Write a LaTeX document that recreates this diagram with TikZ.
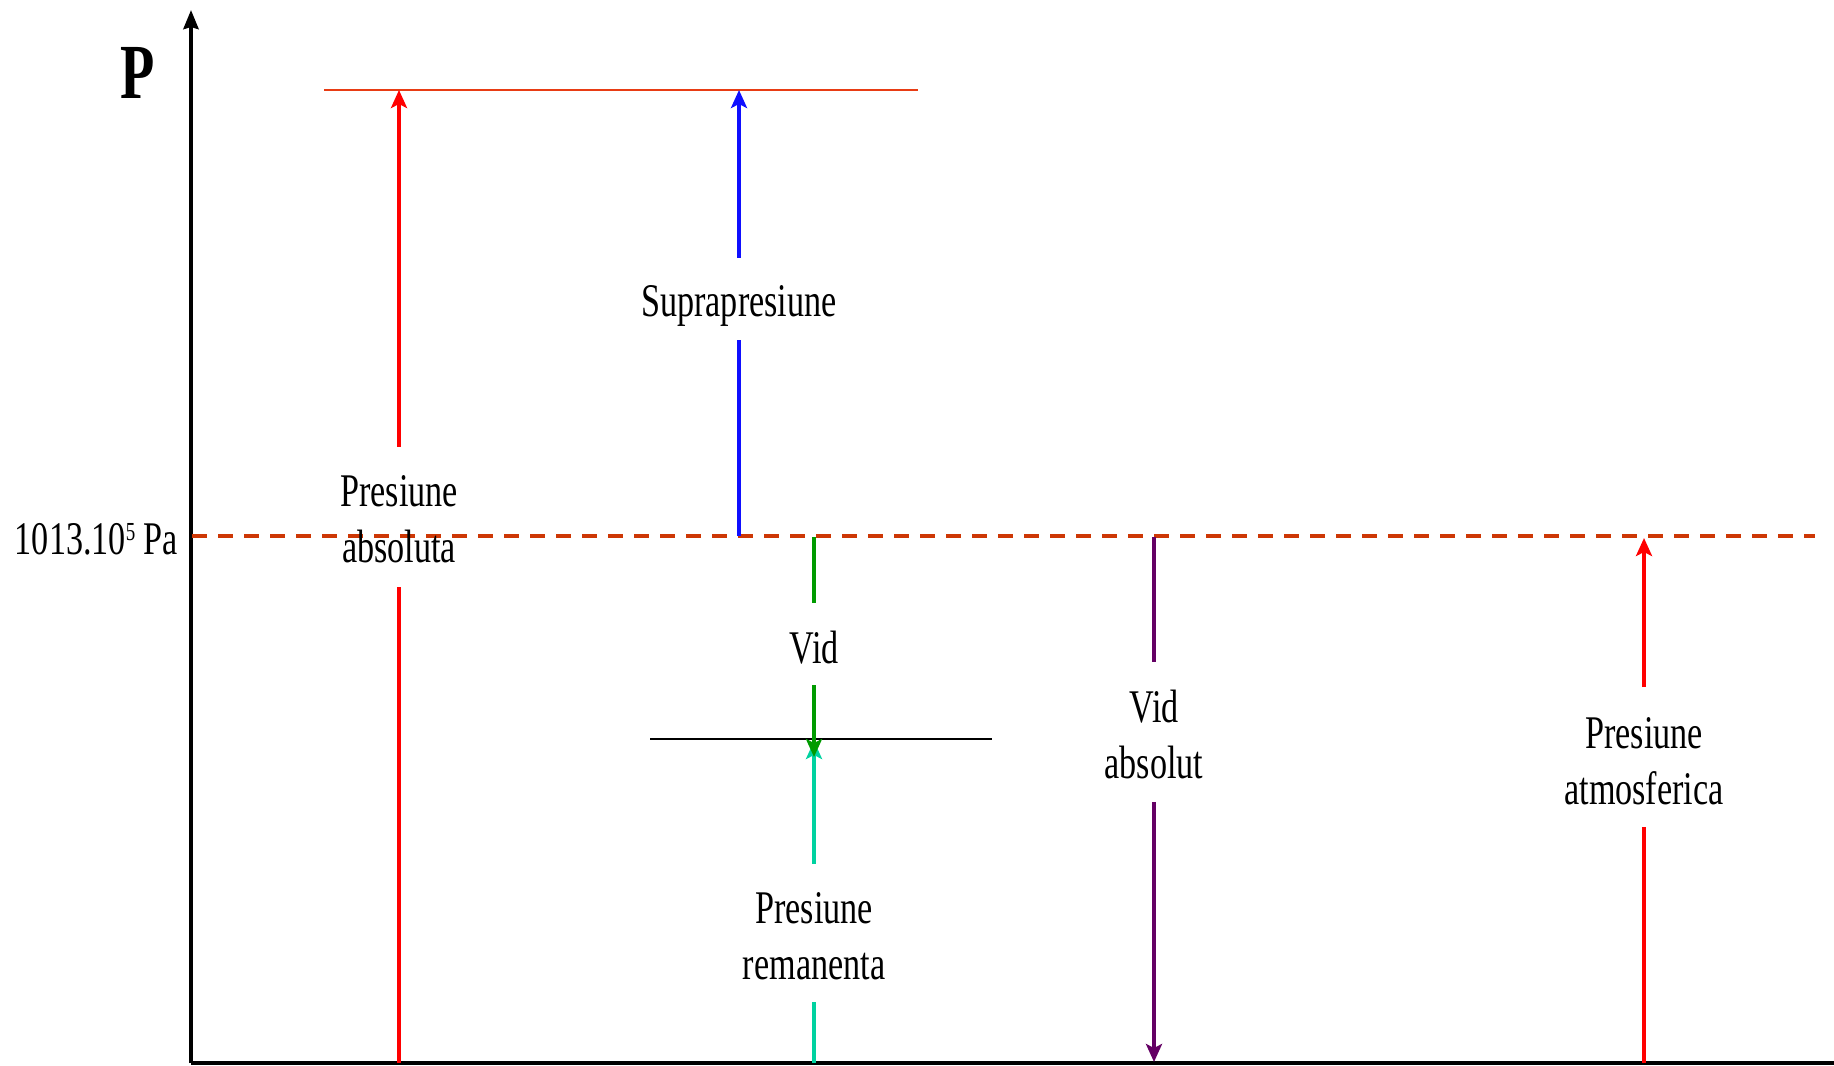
\documentclass[tikz,border=0pt]{standalone}
\usepackage{fontspec}
\setmainfont{Liberation Serif}
\usepackage{graphicx}
\usetikzlibrary{arrows.meta}
\definecolor{dashred}{RGB}{205,55,5}
\definecolor{topred}{RGB}{232,60,20}
\definecolor{myred}{RGB}{255,0,0}
\definecolor{myblue}{RGB}{15,15,255}
\definecolor{mygreen}{RGB}{0,155,0}
\definecolor{myteal}{RGB}{0,210,160}
\definecolor{mypurple}{RGB}{100,0,100}
\newcommand{\cz}[2][1.6pt]{\raisebox{-#1}[\height][\depth]{\scalebox{0.73}[1]{#2}}}
\begin{document}
\begin{tikzpicture}[x=0.5pt,y=-0.5pt,
  arr/.style={line width=2.2pt},
  tipend/.style={-{Stealth[length=9pt,width=8pt,inset=2pt]}},
  lab/.style={inner sep=0pt, align=center, font=\fontsize{23.4}{28}\selectfont}]
\useasboundingbox (0,0) rectangle (1834,1065);
% axes
\coordinate (O) at (191,1063);
\coordinate (Ytop) at (191,10);
\coordinate (Xend) at (1834,1063);
\draw[line width=2pt, -{Stealth[length=9.5pt,width=7.5pt,inset=1pt]}] (O) -- (Ytop);
\draw[line width=2pt] (O) -- (Xend);
\node[inner sep=0pt, font=\fontsize{39}{40}\selectfont\bfseries] (P) at (138,73) {\scalebox{0.72}[1]{P}};
% reference lines
\coordinate (D0) at (192,536);
\coordinate (D1) at (1815,536);
\draw[dashred, line width=2pt, dash pattern=on 7.3pt off 5.7pt] (D0) -- (D1);
\node[lab, anchor=base] (patmlab) at (96.5,554) {\scalebox{0.73}[1]{1013.10\raisebox{6.9pt}{\fontsize{13}{13}\selectfont 5} Pa}};
\coordinate (T0) at (324,90);
\coordinate (T1) at (918,90);
\draw[topred, line width=1pt] (T0) -- (T1);
\coordinate (B0) at (650,739);
\coordinate (B1) at (992,739);
\draw[black, line width=1pt] (B0) -- (B1);
% Presiune absoluta
\coordinate (pa0) at (399,1063);
\coordinate (pa1) at (399,90);
\node[lab, minimum height=70pt] (pal) at (399,517) {\cz[1.2pt]{Presiune}\\\cz[1.2pt]{absoluta}};
\draw[arr, myred] (pa0) -- (pal.south);
\draw[arr, myred, tipend] (pal.north) -- (pa1);
% Suprapresiune
\coordinate (sp0) at (739,536);
\coordinate (sp1) at (739,90);
\node[lab, minimum height=41pt] (spl) at (739,299) {\cz[3.3pt]{Suprapresiune}};
\draw[arr, myblue] (sp0) -- (spl.south);
\draw[arr, myblue, tipend] (spl.north) -- (sp1);
% Presiune remanenta
\coordinate (pr0) at (814,1063);
\coordinate (pr1) at (814,741);
\node[lab, minimum height=69pt] (prl) at (814,933) {\cz{Presiune}\\\cz{remanenta}};
\draw[arr, myteal] (pr0) -- (prl.south);
\draw[arr, myteal, tipend] (prl.north) -- (pr1);
% Vid
\coordinate (v0) at (814,537);
\coordinate (v1) at (814,757);
\node[lab, minimum height=41pt] (vl) at (814,644) {\cz[1.8pt]{Vid}};
\draw[arr, mygreen] (v0) -- (vl.north);
\draw[arr, mygreen, tipend] (vl.south) -- (v1);
% Vid absolut
\coordinate (va0) at (1154,537);
\coordinate (va1) at (1154,1062);
\node[lab, minimum height=69.5pt] (val) at (1154,732) {\cz[1.3pt]{Vid}\\\cz[1.3pt]{absolut}};
\draw[arr, mypurple] (va0) -- (val.north);
\draw[arr, mypurple, tipend] (val.south) -- (va1);
% Presiune atmosferica
\coordinate (at0) at (1644,1063);
\coordinate (at1) at (1644,538);
\node[lab, minimum height=69.5pt] (atl) at (1644,757) {\cz[2pt]{Presiune}\\\cz[2pt]{atmosferica}};
\draw[arr, myred] (at0) -- (atl.south);
\draw[arr, myred, tipend] (atl.north) -- (at1);
\end{tikzpicture}
\end{document}
